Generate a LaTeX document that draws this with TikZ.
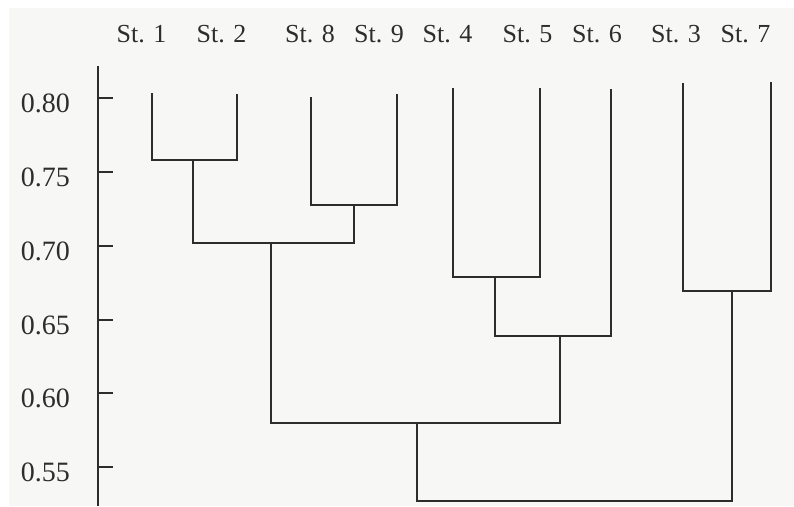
\documentclass[tikz,border=0pt]{standalone}
\usepackage{fontspec}
\setmainfont{Liberation Serif}
\definecolor{inkc}{RGB}{45,45,45}
\definecolor{paper}{RGB}{247,247,246}
\begin{document}
\begin{tikzpicture}[x=1pt,y=-1pt,
  link/.style={draw=inkc,line width=1.1pt},
  leaflabel/.style={font=\fontsize{26}{28}\selectfont,text=inkc,anchor=base,inner sep=0pt},
  vallabel/.style={font=\fontsize{28}{30}\selectfont,text=inkc,anchor=base east,inner sep=0pt}]
\useasboundingbox (0,0) rectangle (794,506);
\fill[white] (0,0) rectangle (794,506);
\fill[paper] (9,8) rectangle (794,506);

% leaf labels
\node[leaflabel] (l1) at (141.5,42) {St. 1};
\node[leaflabel] (l2) at (221.5,42) {St. 2};
\node[leaflabel] (l8) at (310,42) {St. 8};
\node[leaflabel] (l9) at (379,42) {St. 9};
\node[leaflabel] (l4) at (447.5,42) {St. 4};
\node[leaflabel] (l5) at (527.5,42) {St. 5};
\node[leaflabel] (l6) at (597,42) {St. 6};
\node[leaflabel] (l3) at (676,42) {St. 3};
\node[leaflabel] (l7) at (745.5,42) {St. 7};

% axis
\coordinate (axtop) at (98,66);
\coordinate (axbot) at (98,506);
\draw[link] (axtop) -- (axbot);
\foreach \yy/\vv [count=\i] in {98/0.80,172/0.75,246/0.70,320/0.65,393/0.60,467/0.55}{
  \coordinate (tk\i) at (98,\yy);
  \coordinate (tke\i) at (113,\yy);
  \draw[link] (tk\i) -- (tke\i);
  \node[vallabel] (v\i) at (70,\yy+14.5) {\vv};
}

% leaf tops
\coordinate (s1) at (152,93);
\coordinate (s2) at (237,94);
\coordinate (s8) at (311,97);
\coordinate (s9) at (397,94);
\coordinate (s4) at (453,88);
\coordinate (s5) at (540,88);
\coordinate (s6) at (611,89);
\coordinate (s3) at (683,83);
\coordinate (s7) at (771,82);

% merge points
\coordinate (a) at (193,160);
\coordinate (b) at (354,205);
\coordinate (c) at (271,243);
\coordinate (d) at (495,277);
\coordinate (e) at (560,336);
\coordinate (f) at (417,423);
\coordinate (g) at (732,291);
\coordinate (h) at (575,501);

\draw[link] (s1) |- (a) -| (s2);
\draw[link] (s8) |- (b) -| (s9);
\draw[link] (a) |- (c) -| (b);
\draw[link] (s4) |- (d) -| (s5);
\draw[link] (d) |- (e) -| (s6);
\draw[link] (c) |- (f) -| (e);
\draw[link] (s3) |- (g) -| (s7);
\draw[link] (f) |- (h) -| (g);
\end{tikzpicture}
\end{document}
